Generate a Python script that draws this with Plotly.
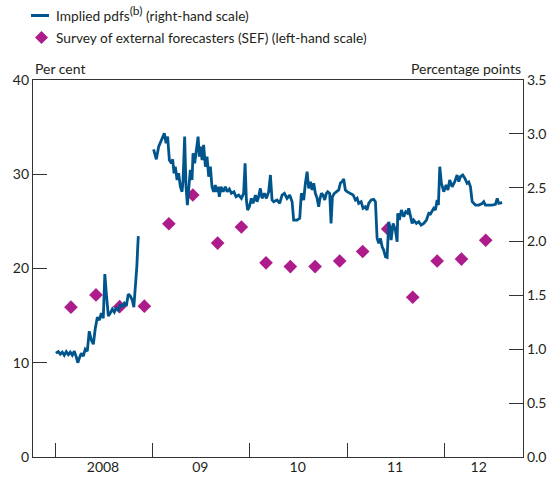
import plotly.graph_objects as go

# ---------------- data ----------------
# Implied pdfs (right-hand scale, percentage points); None marks the gap
pdf_years = [
    2008.005, 2008.031, 2008.051, 2008.072, 2008.092, 2008.113, 2008.134, 2008.154, 2008.175, 2008.195,
    2008.216, 2008.231, 2008.247, 2008.267, 2008.288, 2008.308, 2008.329, 2008.349, 2008.370, 2008.391,
    2008.411, 2008.432, 2008.452, 2008.473, 2008.493, 2008.509, 2008.524, 2008.545, 2008.565, 2008.586,
    2008.606, 2008.627, 2008.647, 2008.668, 2008.689, 2008.709, 2008.730, 2008.750, 2008.771, 2008.791,
    2008.807, 2008.822, 2008.838, 2008.848, 2008.853, 2008.930,
    2009.010, 2009.038, 2009.062, 2009.097, 2009.120, 2009.138, 2009.154, 2009.172, 2009.192, 2009.206,
    2009.220, 2009.233, 2009.251, 2009.267, 2009.285, 2009.302, 2009.312, 2009.329, 2009.343, 2009.357,
    2009.370, 2009.387, 2009.405, 2009.415, 2009.432, 2009.446, 2009.467, 2009.480, 2009.493, 2009.508,
    2009.524, 2009.542, 2009.559, 2009.576, 2009.593, 2009.610, 2009.627, 2009.644, 2009.655, 2009.672,
    2009.685, 2009.703, 2009.724, 2009.747, 2009.765, 2009.788, 2009.809, 2009.835, 2009.857, 2009.884,
    2009.912, 2009.935, 2009.950, 2009.963, 2009.976, 2009.994, 2010.014, 2010.032, 2010.056, 2010.073,
    2010.089, 2010.107, 2010.124, 2010.148, 2010.169, 2010.192, 2010.210, 2010.227, 2010.244, 2010.278,
    2010.305, 2010.330, 2010.354, 2010.381, 2010.408, 2010.433, 2010.449, 2010.484, 2010.511, 2010.528,
    2010.552, 2010.569, 2010.587, 2010.603, 2010.621, 2010.638, 2010.655, 2010.672, 2010.690, 2010.706,
    2010.716, 2010.734, 2010.751, 2010.768, 2010.785, 2010.799, 2010.819, 2010.833, 2010.847, 2010.867,
    2010.888, 2010.912, 2010.929, 2010.947, 2010.963, 2010.980, 2010.998, 2011.032, 2011.060, 2011.083,
    2011.101, 2011.117, 2011.142, 2011.162, 2011.186, 2011.203, 2011.220, 2011.245, 2011.271, 2011.289,
    2011.306, 2011.323, 2011.340, 2011.358, 2011.374, 2011.392, 2011.409, 2011.426, 2011.443, 2011.450,
    2011.471, 2011.494, 2011.512, 2011.518, 2011.535, 2011.556, 2011.580, 2011.600, 2011.618, 2011.631,
    2011.649, 2011.666, 2011.682, 2011.710, 2011.734, 2011.758, 2011.785, 2011.813, 2011.837, 2011.854,
    2011.888, 2011.905, 2011.923, 2011.936, 2011.950, 2011.967, 2011.991, 2012.015, 2012.034, 2012.052,
    2012.077, 2012.104, 2012.128, 2012.145, 2012.162, 2012.186, 2012.207, 2012.231, 2012.248, 2012.265,
    2012.283, 2012.317, 2012.351, 2012.385, 2012.402, 2012.419, 2012.488, 2012.522, 2012.540, 2012.556,
    2012.591,
]
pdf_values = [
    0.964, 0.978, 0.955, 0.973, 0.945, 0.978, 0.950, 0.973, 0.945, 0.982,
    0.927, 0.875, 0.917, 0.964, 0.936, 1.001, 0.982, 1.168, 1.085, 1.047,
    1.196, 1.298, 1.271, 1.336, 1.289, 1.698, 1.521, 1.308, 1.336, 1.373,
    1.345, 1.382, 1.363, 1.410, 1.401, 1.428, 1.401, 1.512, 1.494, 1.456,
    1.391, 1.568, 1.772, 1.967, 2.051, None,
    2.857, 2.764, 2.881, 2.959, 3.006, 2.913, 2.974, 2.757, 2.727, 2.764,
    2.634, 2.695, 2.572, 2.634, 2.509, 2.463, 2.556, 2.974, 2.509, 2.339,
    2.509, 2.665, 2.572, 2.820, 2.727, 2.850, 2.974, 2.788, 2.881, 2.757,
    2.897, 2.695, 2.788, 2.602, 2.695, 2.509, 2.463, 2.525, 2.463, 2.509,
    2.416, 2.509, 2.463, 2.509, 2.463, 2.488, 2.448, 2.463, 2.416, 2.432,
    2.401, 2.448, 2.727, 2.386, 2.293, 2.323, 2.401, 2.355, 2.432, 2.370,
    2.416, 2.494, 2.401, 2.448, 2.401, 2.463, 2.618, 2.386, 2.370, 2.386,
    2.355, 2.432, 2.448, 2.401, 2.432, 2.370, 2.200, 2.200, 2.216, 2.448,
    2.386, 2.541, 2.649, 2.494, 2.556, 2.479, 2.541, 2.448, 2.401, 2.323,
    2.386, 2.448, 2.432, 2.386, 2.448, 2.463, 2.448, 2.169, 2.416, 2.448,
    2.463, 2.479, 2.544, 2.556, 2.581, 2.479, 2.463, 2.448, 2.432, 2.386,
    2.401, 2.355, 2.370, 2.309, 2.323, 2.293, 2.355, 2.386, 2.392, 2.370,
    2.030, 1.983, 2.030, 1.952, 1.921, 1.859, 1.853, 2.184, 2.107, 2.014,
    2.169, 2.107, 1.998, 2.262, 2.200, 2.293, 2.230, 2.277, 2.265, 2.309,
    2.230, 2.169, 2.200, 2.169, 2.184, 2.153, 2.169, 2.200, 2.262, 2.256,
    2.309, 2.293, 2.386, 2.339, 2.695, 2.541, 2.463, 2.525, 2.479, 2.572,
    2.509, 2.556, 2.618, 2.556, 2.602, 2.618, 2.588, 2.541, 2.553, 2.509,
    2.370, 2.339, 2.339, 2.353, 2.370, 2.339, 2.339, 2.346, 2.401, 2.355,
    2.361,
]

# Survey of external forecasters (left-hand scale, per cent)
sef_years = [2008.161, 2008.418, 2008.661, 2008.915, 2009.167, 2009.413, 2009.668, 2009.912, 2010.165,
             2010.415, 2010.669, 2010.922, 2011.158, 2011.415, 2011.672, 2011.923, 2012.173, 2012.422]
sef_values = [15.9, 17.2, 15.95, 16.0, 24.75, 27.8, 22.7, 24.4, 20.6,
              20.2, 20.2, 20.8, 21.8, 24.2, 16.95, 20.8, 21.0, 23.0]

year_ticks = [2008, 2009, 2010, 2011, 2012]
year_label_pos = [2008.49, 2009.49, 2010.49, 2011.49, 2012.35]
year_labels = ["2008", "09", "10", "11", "12"]
left_ticks = [0, 10, 20, 30, 40]
right_ticks = [0.0, 0.5, 1.0, 1.5, 2.0, 2.5, 3.0, 3.5]

# ---------------- style ----------------
BLUE = "#00558C"
MAGENTA = "#AD1C8A"
AXIS = "#333333"
TEXT = "#231F20"
FONT = "Lato"
XRANGE = [2007.771, 2012.805]

fig = go.Figure()
fig.add_trace(go.Scatter(
    x=sef_years, y=sef_values, mode="markers", yaxis="y", xaxis="x",
    marker=dict(symbol="diamond", size=10.5, color=MAGENTA, line=dict(width=0)),
    name="Survey of external forecasters (SEF) (left-hand scale)", showlegend=False,
))
fig.add_trace(go.Scatter(
    x=pdf_years, y=pdf_values, mode="lines", yaxis="y2", xaxis="x",
    line=dict(color=BLUE, width=2.8), connectgaps=False,
    name="Implied pdfs (right-hand scale)", showlegend=False,
))
# invisible trace so the label axis (x2) renders
fig.add_trace(go.Scatter(x=[2010.0], y=[1.0], xaxis="x2", yaxis="y", mode="markers",
                         marker=dict(opacity=0), showlegend=False, hoverinfo="skip"))

fig.update_layout(
    width=551, height=482,
    margin=dict(l=33, r=28, t=80, b=25, autoexpand=False),
    paper_bgcolor="white", plot_bgcolor="white",
    font=dict(family=FONT, size=14, color=TEXT),
    xaxis=dict(range=XRANGE, tickvals=year_ticks, showticklabels=False,
               ticks="inside", ticklen=14, tickwidth=1.3, tickcolor=AXIS,
               showline=True, linecolor=AXIS, linewidth=1.3, mirror=True,
               showgrid=False, zeroline=False, automargin=False),
    xaxis2=dict(range=XRANGE, overlaying="x", side="bottom", anchor="y",
                tickvals=year_label_pos, ticktext=year_labels, ticks="",
                showline=False, showgrid=False, zeroline=False, automargin=False,
                tickfont=dict(size=14, color=TEXT)),
    yaxis=dict(range=[0, 40], tickvals=left_ticks, ticks="inside", ticklen=14,
               tickwidth=1.3, tickcolor=AXIS, showline=True, linecolor=AXIS,
               linewidth=1.3, showgrid=False, zeroline=False, automargin=False,
               tickfont=dict(size=14, color=TEXT)),
    yaxis2=dict(range=[0, 3.5], tickvals=right_ticks, tickformat=".1f",
                overlaying="y", side="right", ticks="inside", ticklen=14,
                tickwidth=1.3, tickcolor=AXIS, showline=True, linecolor=AXIS,
                linewidth=1.3, showgrid=False, zeroline=False, automargin=False,
                tickfont=dict(size=14, color=TEXT)),
    showlegend=False,
)

# axis titles
fig.add_annotation(text="Per cent", xref="paper", yref="paper", x=0, y=1,
                   xanchor="left", yanchor="bottom", yshift=1, showarrow=False,
                   font=dict(size=14, color=TEXT))
fig.add_annotation(text="Percentage points", xref="paper", yref="paper", x=1, y=1,
                   xanchor="right", yanchor="bottom", yshift=1, showarrow=False,
                   font=dict(size=14, color=TEXT))

# custom legend
PW, PH = 490.0, 377.0
def px_x(px):
    return (px - 33) / PW
def px_y(py):
    return (457 - py) / PH

fig.add_shape(type="line", xref="paper", yref="paper",
              x0=px_x(31), x1=px_x(49), y0=px_y(15.5), y1=px_y(15.5),
              line=dict(color=BLUE, width=3))
cx, cy, hx, hy = px_x(41.5), px_y(37.5), 6.5 / PW, 6.5 / PH
fig.add_shape(type="path", xref="paper", yref="paper",
              path=f"M {cx-hx},{cy} L {cx},{cy+hy} L {cx+hx},{cy} L {cx},{cy-hy} Z",
              fillcolor=MAGENTA, line=dict(width=0))
fig.add_annotation(text="Implied pdfs<sup><span style='font-size:12px'>(b)</span></sup> (right-hand scale)",
                   xref="paper", yref="paper",
                   x=px_x(54), y=px_y(14), xanchor="left", yanchor="middle",
                   showarrow=False, font=dict(size=13.7, color=TEXT))
fig.add_annotation(text="Survey of external forecasters (SEF) (left-hand scale)", xref="paper", yref="paper",
                   x=px_x(54), y=px_y(37.5), xanchor="left", yanchor="middle",
                   showarrow=False, font=dict(size=13.7, color=TEXT))

fig.write_html("out.html",
               config={"displayModeBar": False},
               post_script="document.body.style.margin='0';document.body.style.overflow='hidden';")
